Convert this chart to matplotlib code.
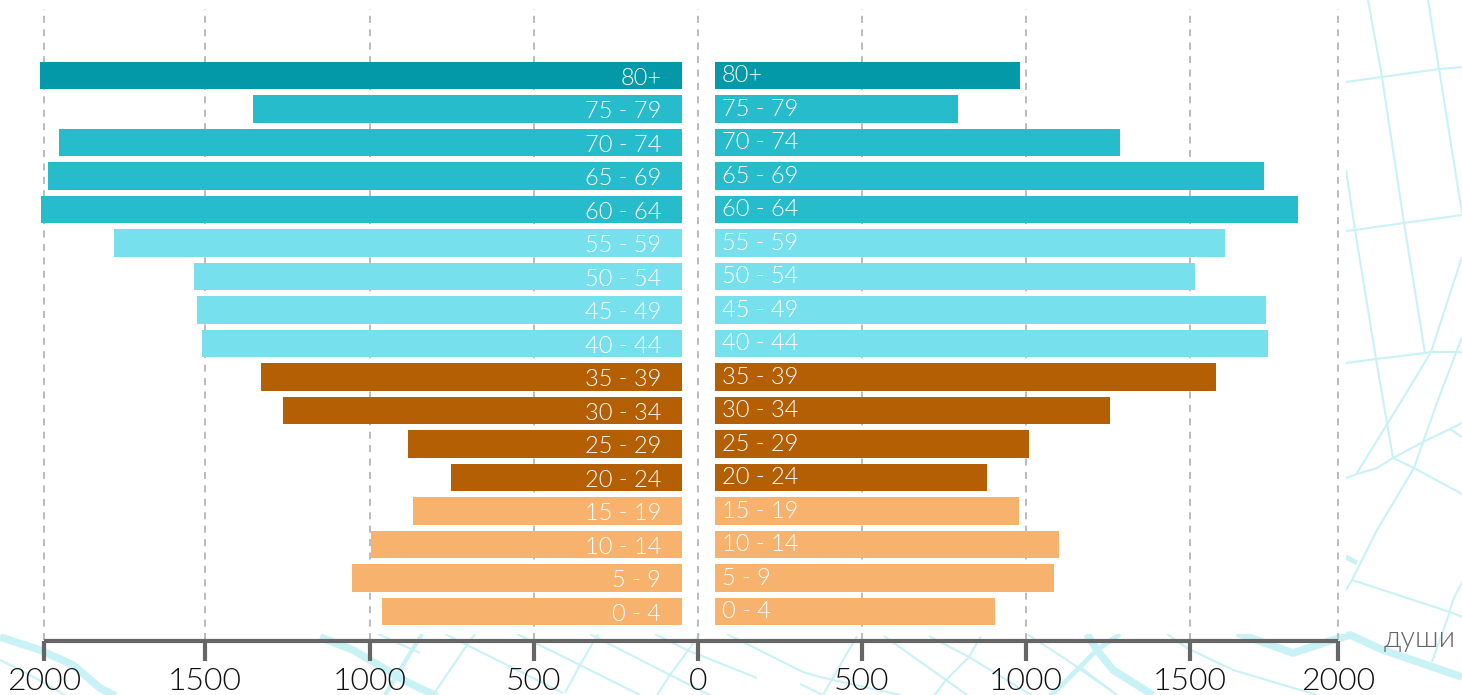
import matplotlib
matplotlib.use('Agg')
import matplotlib.pyplot as plt

plt.rcParams['font.family'] = ['Lato', 'DejaVu Sans']

groups = ['0 - 4', '5 - 9', '10 - 14', '15 - 19', '20 - 24', '25 - 29', '30 - 34', '35 - 39', '40 - 44',
          '45 - 49', '50 - 54', '55 - 59', '60 - 64', '65 - 69', '70 - 74', '75 - 79', '80+']
left_vals = [963, 1055, 997, 869, 753, 884, 1265, 1332, 1512, 1527, 1537, 1780, 2003, 1982, 1948, 1357, 2006]
right_vals = [905, 1085, 1101, 979, 881, 1009, 1256, 1579, 1738, 1732, 1515, 1607, 1829, 1726, 1287, 793, 982]
colors = ['#f7b26d'] * 4 + ['#b55f05'] * 4 + ['#76e0ec'] * 4 + ['#27bccc'] * 4 + ['#0399a9']
ticks = [-1994, -1503, -1001, -501, 0, 500, 1000, 1500, 1951]
tick_labels = ['2000', '1500', '1000', '500', '0', '500', '1000', '1500', '2000']
gap_left = 50
gap_right = 52

W, H = 1462, 695
fig = plt.figure(figsize=(W / 100, H / 100), dpi=100, facecolor='white')

# map in the background, only seen along the bottom and on the right
bg = fig.add_axes([0, 0, 1, 1], zorder=0)
bg.set_xlim(0, W)
bg.set_ylim(H, 0)
bg.axis('off')
clip = bg.fill([1346, W, W, 0, 0, 1346], [0, 0, H, H, 634, 634], color='none', lw=0)[0]
streets = [
    ([1368, 1382, 1404, 1425], [0, 77, 223, 353]),
    ([1428, 1439, 1462], [0, 69, 213]),
    ([1346, 1382, 1439, 1462], [82, 77, 69, 67]),
    ([1346, 1355, 1404, 1462], [231, 230, 223, 215]),
    ([1346, 1355, 1376, 1383, 1393], [170, 230, 359, 400, 458]),
    ([1346, 1376, 1425, 1431, 1462], [363, 359, 353, 352, 352]),
    ([1462, 1431, 1402, 1357], [257, 352, 400, 473]),
    ([1462, 1438, 1423, 1414, 1377, 1352, 1346], [337, 400, 442, 468, 530, 580, 590]),
    ([1346, 1357, 1377, 1393, 1423, 1450, 1462], [478, 474, 468, 458, 442, 429, 423]),
    ([1393, 1414, 1462], [458, 468, 494]),
    ([1450, 1462], [429, 437]),
    ([1352, 1453, 1462], [580, 613, 617]),
    ([1462, 1453, 1448, 1432], [582, 600, 617, 662]),
    ([1027, 1067, 1117], [634, 660, 695]),
    ([1167, 1187, 1233, 1317], [634, 648, 670, 695]),
    ([1080, 1117], [667, 695]),
    ([884, 946, 994], [636, 680, 714]),
    ([929, 969, 1062], [636, 657, 714]),
    ([981, 969, 946, 920], [636, 657, 680, 714]),
    ([857, 823, 813], [636, 695, 714]),
    ([800, 823, 870], [684, 695, 714]),
    ([445, 467, 563], [634, 645, 693]),
    ([475, 467, 433], [634, 645, 695]),
    ([517, 580, 640], [634, 665, 695]),
    ([598, 580, 565], [634, 665, 693]),
    ([590, 670, 710], [634, 675, 695]),
    ([700, 670, 657], [634, 675, 695]),
    ([655, 687, 757], [634, 650, 678]),
    ([727, 803, 820, 900], [634, 672, 677, 695]),
    ([378, 420], [634, 653]),
    ([0, 30, 65], [660, 675, 695]),
]
rivers = [
    ([0, 40, 73, 100, 123], [637, 650, 665, 688, 700], 5.5),
    ([320, 353, 407, 445], [637, 650, 682, 700], 5.5),
    ([422, 403, 385], [634, 665, 695], 3),
    ([1087, 1097, 1113, 1153], [634, 650, 670, 695], 5.5),
    ([1120, 1097, 1060, 1045], [634, 650, 687, 700], 3.5),
    ([1237, 1293, 1333, 1350, 1383, 1462], [633, 653, 640, 635, 650, 677], 5.5),
    ([1346, 1357], [557, 563], 3.5),
]
for xs, ys in streets:
    bg.plot(xs, ys, color='#c9f2f6', lw=1.5, solid_capstyle='butt')
for xs, ys, w in rivers:
    bg.plot(xs, ys, color='#c9f2f6', lw=w, solid_capstyle='butt')
for art in bg.lines:
    art.set_clip_path(clip)

# x: 0.328 px per person with zero at pixel 698, y: one row = 33.5 px
x_per_px = 1 / 0.328
ax = fig.add_axes([0, 0, 1, 1], zorder=1)
ax.patch.set_alpha(0)
ax.set_xlim(-698 * x_per_px, (W - 698) * x_per_px)
ax.set_ylim((H - 611.5) / -33.5, 611.5 / 33.5)
ax.axis('off')

for t in ticks:
    ax.plot([t, t], [-0.85, 18.0], color='#bbbbbb', lw=1.4, dashes=(3.6, 3.3), zorder=1)

rows = range(len(groups))
ax.barh(rows, [-(v - gap_left) for v in left_vals], left=-gap_left, height=0.806, color=colors, zorder=2)
ax.barh(rows, [v - gap_right for v in right_vals], left=gap_right, height=0.806, color=colors, zorder=2)

for i, g in enumerate(groups):
    ax.text(-112, i - 0.08, g, color='white', fontsize=17, fontweight=300, ha='right', va='center', zorder=3)
    ax.text(72, i - 0.01, g, color='white', fontsize=17, fontweight=300, ha='left', va='center', zorder=3)

axis_y = -0.87
ax.plot([ticks[0], ticks[-1]], [axis_y, axis_y], color='#666666', lw=3, solid_capstyle='butt', zorder=4)
for t, lab in zip(ticks, tick_labels):
    ax.plot([t, t], [axis_y, axis_y - 0.6], color='#666666', lw=3, solid_capstyle='butt', zorder=4)
    ax.text(t, -2.09, lab, color='#111111', fontsize=23, fontweight=300, ha='center', va='center', zorder=4)
ax.text(2090, -0.83, 'души', color='#666666', fontsize=21, fontweight=300, ha='left', va='center', zorder=4)

fig.savefig('out.png', dpi=100, facecolor='white')
